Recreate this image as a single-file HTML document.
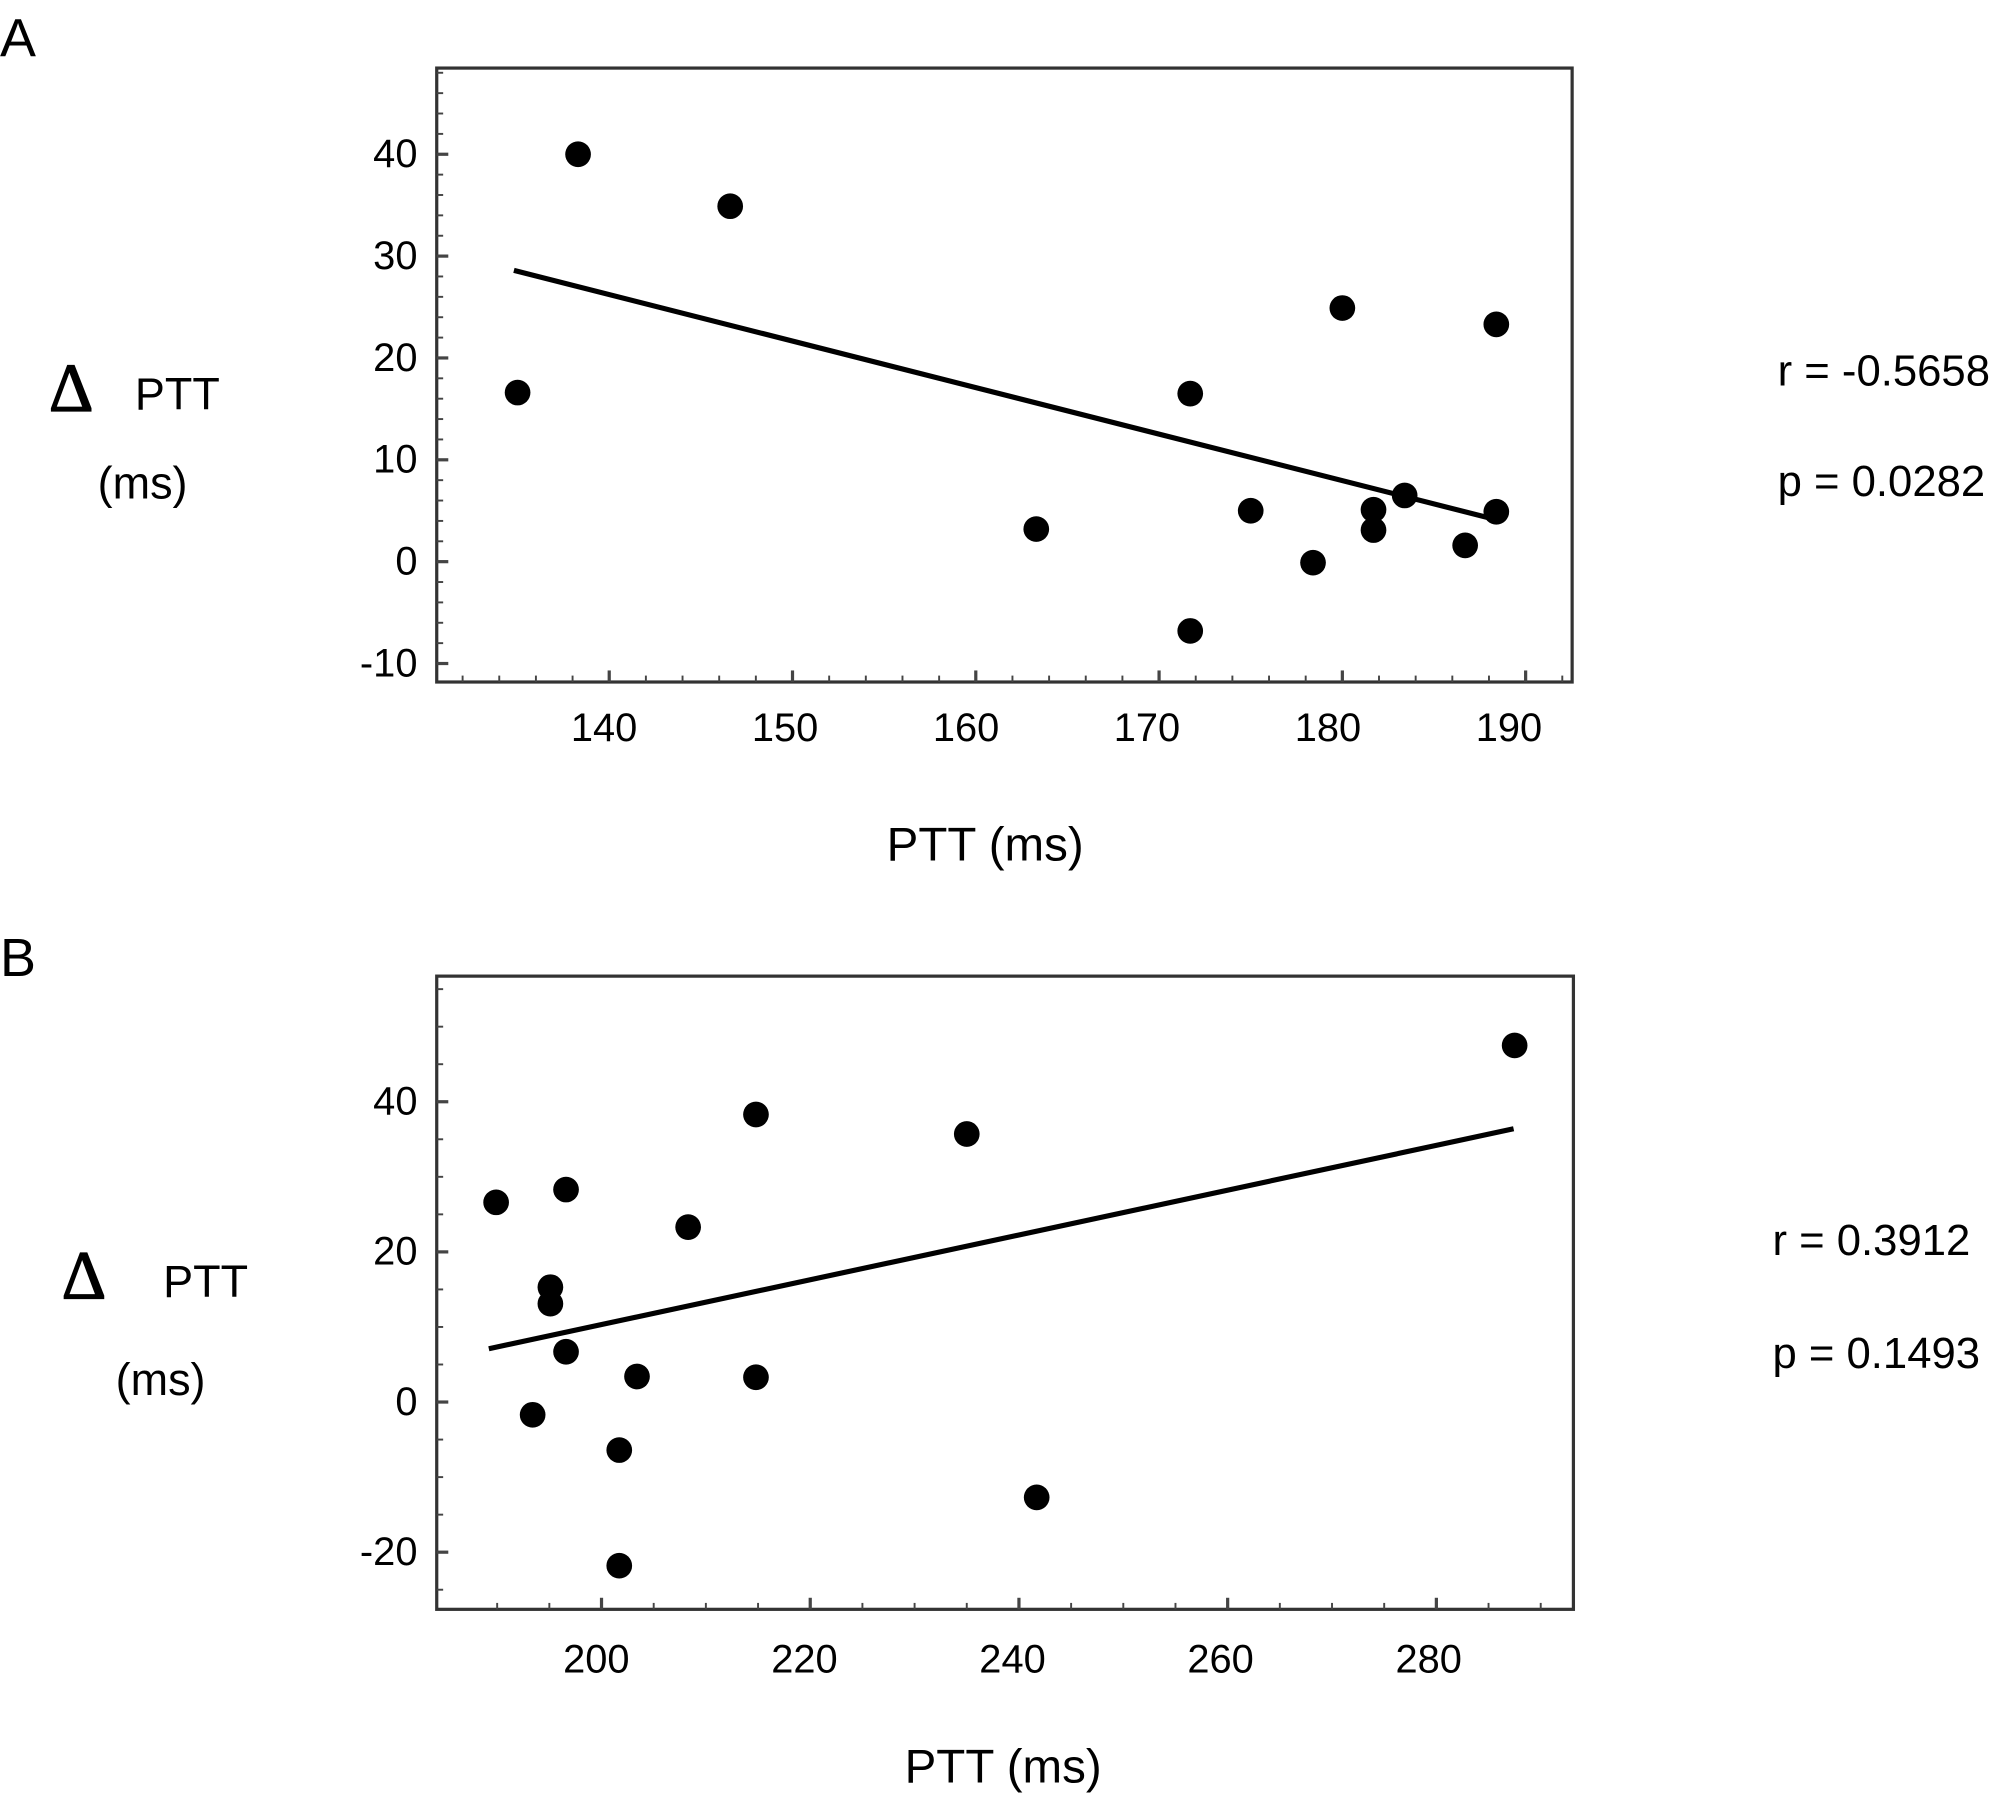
<!DOCTYPE html>
<html><head><meta charset="utf-8"><style>
html,body{margin:0;padding:0;background:#fff;}
svg{display:block;font-family:"Liberation Sans",sans-serif;}
</style></head><body>
<svg id="fig" width="2014" height="1793" viewBox="0 0 1568 1396" xmlns="http://www.w3.org/2000/svg">
<rect width="1568" height="1396" fill="#fff"/>
<text x="0" y="44" font-size="42">A</text>
<text x="0" y="760" font-size="42">B</text>
<g>
<text x="38" y="320" font-size="54" font-family="Liberation Serif,serif" stroke="#000" stroke-width="1">Δ</text>
<text x="105" y="319" font-size="35">PTT</text>
<text x="111" y="388" font-size="35" text-anchor="middle">(ms)</text></g>
<g>
<text x="48" y="1011" font-size="54" font-family="Liberation Serif,serif" stroke="#000" stroke-width="1">Δ</text>
<text x="127" y="1010" font-size="35">PTT</text>
<text x="125" y="1086" font-size="35" text-anchor="middle">(ms)</text></g>
<text x="1384" y="300" font-size="34">r = -0.5658</text>
<text x="1384" y="386" font-size="34">p = 0.0282</text>
<text x="1380" y="977" font-size="34">r = 0.3912</text>
<text x="1380" y="1065" font-size="34">p = 0.1493</text>
<text x="767" y="670" font-size="37" text-anchor="middle">PTT (ms)</text>
<text x="781" y="1388" font-size="37" text-anchor="middle">PTT (ms)</text>
</svg>
<script>
const aX=[135.0,138.3,146.6,163.3,171.7,171.7,175.0,178.4,180.0,181.7,181.7,183.4,186.7,188.4,188.4];
const aY=[16.6,40.0,34.9,3.2,16.5,-6.8,5.0,-0.1,24.9,5.1,3.1,6.5,1.6,23.3,4.9];
const aFitX=[134.8,188.0];
const aFitY=[28.6,4.3];
const aXTicks=[140,150,160,170,180,190];
const aYTicks=[-10,0,10,20,30,40];
const bX=[189.9,196.6,195.1,195.1,196.6,193.4,201.7,201.7,203.4,208.3,214.8,214.8,235.0,241.7,287.5];
const bY=[26.6,28.3,15.3,13.1,6.7,-1.7,-6.4,-21.8,3.4,23.3,38.3,3.3,35.7,-12.7,47.5];
const bFitX=[189.2,287.4];
const bFitY=[7.1,36.4];
const bXTicks=[200,220,240,260,280];
const bYTicks=[-20,0,20,40];
const NS="http://www.w3.org/2000/svg";
const svg=document.getElementById('fig');
function mk(t,a,p){const e=document.createElementNS(NS,t);for(const k in a)e.setAttribute(k,a[k]);(p||svg).appendChild(e);return e;}
function panel(id,box,xs,ys,px,py,fx,fy,xt,yt,xMinor,yMinor,xlabY,labShift){
  const g=mk('g',{});
  
  
  mk('rect',{x:box.l,y:box.t,width:box.r-box.l,height:box.b-box.t,fill:'none',stroke:'#333',"stroke-width":2.5},g);
  for(let v=xMinor[0];v<=xMinor[1];v+=xMinor[2]){const x=xs(v);if(x<box.l+2||x>box.r-2)continue;
    const major=xt.includes(v);mk('line',{x1:x,x2:x,y1:box.b,y2:box.b-(major?9:5),stroke:'#444',"stroke-width":major?2.5:1.5},g);}
  for(let v=yMinor[0];v<=yMinor[1];v+=yMinor[2]){const y=ys(v);if(y<box.t+2||y>box.b-2)continue;
    const major=yt.includes(v);mk('line',{x1:box.l,x2:box.l+(major?9:5),y1:y,y2:y,stroke:'#444',"stroke-width":major?2.5:1.5},g);}
  xt.forEach((v,i)=>{const t=mk('text',{x:xs(v)-4-i*labShift,y:xlabY,"font-size":31,"text-anchor":"middle"},g);t.textContent=v;
    
    });
  yt.forEach(v=>{const t=mk('text',{x:box.l-15,y:ys(v)+10,"font-size":31,"text-anchor":"end"},g);t.textContent=v;
    
    });
  const ln=mk('line',{x1:xs(fx[0]),y1:ys(fy[0]),x2:xs(fx[1]),y2:ys(fy[1]),stroke:'#000',"stroke-width":4},g);
  
  
  px.forEach((v,i)=>{const c=mk('circle',{cx:xs(v),cy:ys(py[i]),r:10,fill:'#000'},g);
    
    });
}
const boxA={l:340,r:1224,t:53,b:531};
const xsA=v=>474.3+(v-140)*14.27;
const ysA=v=>437.3-v*7.93;
panel('panel-a',boxA,xsA,ysA,aX,aY,aFitX,aFitY,aXTicks,aYTicks,[132,192,2],[-12,48,2],577,1.8);
const boxB={l:340,r:1225,t:760,b:1253};
const xsB=v=>468.3+(v-200)*8.125;
const ysB=v=>1091.6-v*5.845;
panel('panel-b',boxB,xsB,ysB,bX,bY,bFitX,bFitY,bXTicks,bYTicks,[190,290,5],[-25,55,5],1302,0.5);
</script>
</body></html>
